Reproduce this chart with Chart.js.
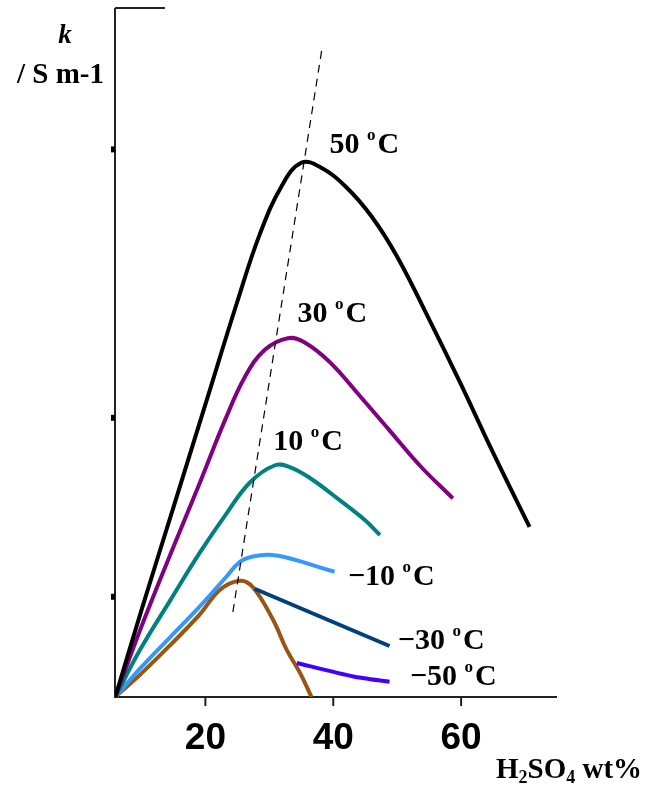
<!DOCTYPE html>
<html>
<head>
<meta charset="utf-8">
<script src="https://cdn.jsdelivr.net/npm/chart.js@4"></script>
<style>
  html, body { margin: 0; padding: 0; background: #fff; }
  #chart { display: block; }
</style>
</head>
<body>
<canvas id="chart" width="658" height="785"></canvas>
<script>
// 电导率 k 与 H2SO4 浓度 (wt%) 的关系, 各温度曲线
const xTicks = [20, 40, 60];
const yTicks = [10, 30, 60];

const wt_50C = [5.9, 10.0, 15.0, 20.0, 25.0, 28.5, 32.0, 35.0, 38.0, 42.0, 46.0, 50.0, 55.0, 60.0, 65.0, 70.7];
const k_50C  = [-1.2, 8.5, 20.0, 31.5, 43.0, 50.5, 56.0, 58.5, 58.0, 55.8, 52.5, 48.0, 41.0, 33.7, 26.1, 17.8];

const wt_30C = [5.9, 9.8, 14.5, 19.1, 23.1, 26.2, 29.3, 32.9, 35.6, 39.5, 44.1, 48.8, 53.5, 58.7];
const k_30C  = [-1.2, 6.3, 14.7, 22.7, 29.8, 34.6, 37.6, 38.9, 38.4, 36.2, 32.5, 28.6, 24.7, 21.0];

const wt_10C = [5.9, 9.8, 14.5, 19.1, 23.1, 27.0, 30.9, 33.2, 36.3, 41.0, 44.9, 47.3];
const k_10C  = [-1.2, 4.1, 9.6, 14.9, 19.1, 22.8, 24.7, 24.5, 23.3, 20.8, 18.6, 16.9];

const wt_m10C = [5.9, 9.8, 14.5, 19.1, 23.1, 25.4, 27.4, 30.1, 33.7, 37.4, 40.2];
const k_m10C  = [-1.2, 2.0, 5.5, 8.9, 12.1, 13.9, 14.5, 14.7, 14.2, 13.4, 12.8];

// -30 / -50 共用的上升段及下降段
const wt_low = [5.9, 9.8, 14.5, 19.1, 22.3, 25.4, 27.4, 30.6, 32.7, 34.8, 36.6];
const k_low  = [-1.2, 1.3, 4.6, 8.0, 10.8, 11.8, 11.1, 7.4, 4.1, 1.5, -1.2];

const wt_m30C = [27.7, 48.8];
const k_m30C  = [10.9, 4.5];

const wt_m50C = [34.3, 43.1, 48.8];
const k_m50C  = [2.6, 1.1, 0.5];

// 峰值连线 (虚线)
const wt_peak = [24.3, 38.2];
const k_peak  = [8.3, 71.1];

const tempLabels = ['50', '30', '10', '\u221210', '\u221230', '\u221250'];
const labelAnchors = [[39.4, 59.6], [34.4, 40.7], [30.6, 26.4], [42.3, 11.3], [50.1, 4.2], [52.0, 0.1]];

function pts(xs, ys) {
    return xs.map((x, i) => ({ x: x, y: ys[i] }));
}

function line(label, xs, ys, color, extra) {
    return Object.assign({
        label: label,
        data: pts(xs, ys),
        borderColor: color,
        borderWidth: 4,
        pointRadius: 0,
        tension: 0.4,
        fill: false
    }, extra || {});
}

const axesPlugin = {
    id: 'axesPlugin',
    beforeDatasetsDraw(chart) {
        const ctx = chart.ctx;
        const xs = chart.scales.x, ys = chart.scales.y;
        const a = chart.chartArea;
        ctx.save();
        ctx.strokeStyle = '#222';
        ctx.lineWidth = 2;
        ctx.beginPath();
        ctx.moveTo(a.left, a.top);
        ctx.lineTo(a.left, a.bottom);
        ctx.lineTo(a.right, a.bottom);
        ctx.stroke();
        ctx.beginPath();
        ctx.moveTo(a.left, a.top);
        ctx.lineTo(a.left + 50, a.top);
        ctx.stroke();

        // x 轴刻度
        ctx.fillStyle = '#000';
        ctx.font = 'bold 37px "Liberation Sans", Arial, sans-serif';
        ctx.textAlign = 'center';
        ctx.textBaseline = 'alphabetic';
        xTicks.forEach(v => {
            const px = xs.getPixelForValue(v);
            ctx.beginPath();
            ctx.moveTo(px, a.bottom);
            ctx.lineTo(px, a.bottom + 9);
            ctx.stroke();
            ctx.fillText(String(v), px, a.bottom + 52);
        });
        // y 轴刻度 (无标签)
        yTicks.forEach(v => {
            const py = ys.getPixelForValue(v);
            ctx.fillRect(a.left - 4, py - 3, 4, 6);
        });
        ctx.restore();
    },
    afterDatasetsDraw(chart) {
        const ctx = chart.ctx;
        const xs = chart.scales.x, ys = chart.scales.y;
        ctx.save();
        ctx.fillStyle = '#000';
        ctx.textAlign = 'left';
        ctx.textBaseline = 'alphabetic';
        const big = 'bold 30px "Liberation Serif", "Times New Roman", serif';
        const small = 'bold 17px "Liberation Serif", "Times New Roman", serif';
        tempLabels.forEach((t, i) => {
            let x = xs.getPixelForValue(labelAnchors[i][0]);
            const y = ys.getPixelForValue(labelAnchors[i][1]);
            ctx.font = big;
            ctx.fillText(t + ' ', x, y);
            x += ctx.measureText(t + ' ').width;
            ctx.font = small;
            ctx.fillText('o', x, y - 13);
            x += ctx.measureText('o').width + 2;
            ctx.font = big;
            ctx.fillText('C', x, y);
        });

        // 坐标轴标题
        ctx.font = 'bold italic 27px "Liberation Serif", serif';
        ctx.textAlign = 'center';
        ctx.fillText('k', 65, 43);
        ctx.textAlign = 'left';
        ctx.font = 'bold 29px "Liberation Serif", serif';
        ctx.fillText('/ S m-1', 17, 83);

        let x = 496;
        const by = 778;
        const parts = [['H', 0], ['2', 1], ['SO', 0], ['4', 1], [' wt%', 0]];
        parts.forEach(p => {
            ctx.font = p[1] ? 'bold 18px "Liberation Serif", serif' : 'bold 29px "Liberation Serif", serif';
            ctx.fillText(p[0], x, by + (p[1] ? 5 : 0));
            x += ctx.measureText(p[0]).width;
        });
        ctx.restore();
    }
};

new Chart(document.getElementById('chart'), {
    type: 'line',
    data: {
        datasets: [
            line('peak', wt_peak, k_peak, '#000', { borderWidth: 1.2, borderDash: [8, 6], tension: 0 }),
            line('50 °C', wt_50C, k_50C, '#000000'),
            line('30 °C', wt_30C, k_30C, '#800080'),
            line('10 °C', wt_10C, k_10C, '#008080'),
            line('-10 °C', wt_m10C, k_m10C, '#3399ff'),
            line('-30 °C', wt_m30C, k_m30C, '#004080', { tension: 0 }),
            line('-50 °C', wt_m50C, k_m50C, '#4400ff', { tension: 0.2 }),
            line('low', wt_low, k_low, '#995511')
        ]
    },
    options: {
        responsive: false,
        animation: false,
        devicePixelRatio: 1,
        layout: { padding: { left: 115, right: 101, top: 8, bottom: 88 } },
        plugins: { legend: { display: false }, tooltip: { enabled: false } },
        scales: {
            x: { type: 'linear', min: 5.86, max: 75, display: false },
            y: { type: 'linear', min: -1.2, max: 75.8, display: false }
        }
    },
    plugins: [axesPlugin]
});
</script>
</body>
</html>
